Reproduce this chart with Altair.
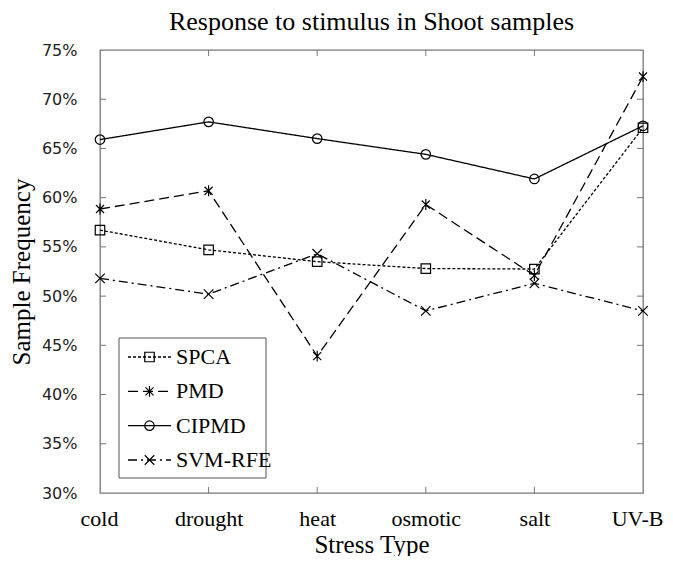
import altair as alt
import pandas as pd

categories = ["cold", "drought", "heat", "osmotic", "salt", "UV-B"]
series_names = ["SPCA", "PMD", "CIPMD", "SVM-RFE"]
spca = [56.7, 54.7, 53.5, 52.8, 52.75, 67.1]
pmd = [58.85, 60.7, 43.9, 59.3, 52.1, 72.3]
cipmd = [65.9, 67.7, 66.0, 64.4, 61.9, 67.3]
svm_rfe = [51.8, 50.2, 54.3, 48.5, 51.3, 48.5]
y_ticks = [30, 35, 40, 45, 50, 55, 60, 65, 70, 75]
inner_y_ticks = [35, 40, 45, 50, 55, 60, 65, 70]
inner_x_ticks = ["drought", "heat", "osmotic", "salt"]

W, H = 543, 443
SERIF = "Liberation Serif"
FRAME = "#777777"

rows = []
for name, vals in zip(series_names, [spca, pmd, cipmd, svm_rfe]):
    for c, v in zip(categories, vals):
        rows.append({"series": name, "category": c, "value": v})
df = pd.DataFrame(rows)
legend_df = pd.DataFrame({"series": series_names})
ytick_df = pd.DataFrame({"v": inner_y_ticks})
xtick_df = pd.DataFrame({"category": inner_x_ticks})
box_df = pd.DataFrame({"k": [0]})

ast_path = "M-0.85,-0.85L0.85,0.85M-0.85,0.85L0.85,-0.85M0,-1.15L0,1.15"
x_path = "M-1,-1L1,1M-1,1L1,-1"

xscale = alt.Scale(type="point", domain=categories, padding=0)
yscale = alt.Scale(domain=[30, 75], nice=False, zero=False)
dash_scale = alt.Scale(domain=series_names, range=[[3, 2], [10, 5], [1, 0], [9, 4, 2, 4]])
shape_scale = alt.Scale(domain=series_names, range=["square", ast_path, "circle", x_path])
leg_y = alt.Y("series:N", scale=alt.Scale(type="point", domain=series_names, range=[307, 410], padding=0), axis=None)

xaxis = alt.Axis(title="Stress Type", labelAngle=0, ticks=False, domain=False,
                 labelFont=SERIF, labelFontSize=22, labelColor="black", labelPadding=15,
                 labelFlush=True, labelFlushOffset=20,
                 titleFont=SERIF, titleFontSize=25, titleFontWeight="normal",
                 titleColor="black", titlePadding=3, grid=False)


def xenc():
    return alt.X("category:N", scale=xscale, sort=categories, axis=xaxis)


yenc = alt.Y("value:Q", scale=yscale,
             axis=alt.Axis(title="Sample Frequency", values=y_ticks, labelExpr="datum.value + '%'",
                           ticks=False, domain=False, grid=False,
                           labelFont="DejaVu Sans", labelFontSize=16, labelColor="#222222",
                           labelPadding=23, titleFont=SERIF, titleFontSize=25,
                           titleFontWeight="normal", titleColor="black", titlePadding=7))

lines = alt.Chart(df).mark_line(color="black", strokeWidth=1.3).encode(
    x=xenc(), y=yenc,
    strokeDash=alt.StrokeDash("series:N", scale=dash_scale, legend=None),
    detail="series:N",
)
points = alt.Chart(df).mark_point(filled=False, color="black", strokeWidth=1.2, opacity=1, size=90).encode(
    x=xenc(),
    y=alt.Y("value:Q", scale=yscale, axis=None),
    shape=alt.Shape("series:N", scale=shape_scale, legend=None),
)

left_ticks = alt.Chart(ytick_df).mark_rule(color=FRAME, strokeWidth=1).encode(
    y=alt.Y("v:Q", scale=yscale, axis=None), x=alt.value(0), x2=alt.value(6))
right_ticks = alt.Chart(ytick_df).mark_rule(color=FRAME, strokeWidth=1).encode(
    y=alt.Y("v:Q", scale=yscale, axis=None), x=alt.value(W - 6), x2=alt.value(W))
top_ticks = alt.Chart(xtick_df).mark_rule(color=FRAME, strokeWidth=1).encode(
    x=xenc(), y=alt.value(0), y2=alt.value(6))
bottom_ticks = alt.Chart(xtick_df).mark_rule(color=FRAME, strokeWidth=1).encode(
    x=xenc(), y=alt.value(H - 6), y2=alt.value(H))

leg_box = alt.Chart(box_df).mark_rect(fill="white", stroke="#555555", strokeWidth=1).encode(
    x=alt.value(19), x2=alt.value(166), y=alt.value(288), y2=alt.value(428))
leg_lines = alt.Chart(legend_df).mark_rule(color="black", strokeWidth=1.3).encode(
    y=leg_y, x=alt.value(28), x2=alt.value(71),
    strokeDash=alt.StrokeDash("series:N", scale=dash_scale, legend=None))
leg_pts = alt.Chart(legend_df).mark_point(filled=False, color="black", strokeWidth=1.2, opacity=1, size=90).encode(
    y=leg_y, x=alt.value(49.5),
    shape=alt.Shape("series:N", scale=shape_scale, legend=None))
leg_text = alt.Chart(legend_df).mark_text(align="left", baseline="middle", font=SERIF, fontSize=22,
                                          color="black").encode(
    y=leg_y, x=alt.value(76), text="series:N")

chart = alt.layer(
    lines, points, left_ticks, right_ticks, top_ticks, bottom_ticks,
    leg_box, leg_lines, leg_pts, leg_text
).resolve_scale(y="independent").properties(
    width=W, height=H,
    title=alt.Title("Response  to stimulus in Shoot samples", font=SERIF, fontSize=26,
                    fontWeight="normal", color="black", anchor="middle", offset=7),
    autosize=alt.AutoSizeParams(type="none"),
    padding={"left": 92, "top": 42, "right": 22, "bottom": 63},
).configure_view(stroke=FRAME, strokeWidth=1.3)

chart.save("out.html", embed_options={"renderer": "svg", "actions": False})
